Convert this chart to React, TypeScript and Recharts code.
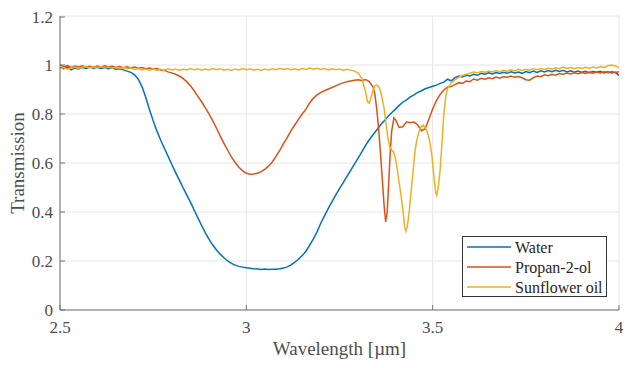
import { CartesianGrid, Label, Legend, Line, LineChart, XAxis, YAxis } from "recharts";

// wavelength [µm], transmission
const water: [number, number][] = [
  [2.5, 0.99], [2.51, 0.985], [2.52, 0.992], [2.53, 0.98], [2.54, 0.988], [2.55, 0.984],
  [2.56, 0.99], [2.57, 0.986], [2.58, 0.992], [2.59, 0.987], [2.6, 0.991], [2.61, 0.986],
  [2.62, 0.99], [2.63, 0.985], [2.64, 0.988], [2.65, 0.983], [2.66, 0.985], [2.67, 0.98],
  [2.68, 0.975], [2.69, 0.97], [2.7, 0.96], [2.71, 0.942], [2.72, 0.912], [2.73, 0.868],
  [2.74, 0.818], [2.75, 0.772], [2.76, 0.731], [2.77, 0.694], [2.78, 0.66], [2.79, 0.628],
  [2.8, 0.594], [2.81, 0.562], [2.82, 0.531], [2.83, 0.5], [2.84, 0.47], [2.85, 0.44],
  [2.86, 0.408], [2.87, 0.376], [2.88, 0.345], [2.89, 0.315], [2.9, 0.288], [2.91, 0.265],
  [2.92, 0.245], [2.93, 0.228], [2.94, 0.213], [2.95, 0.2], [2.96, 0.19], [2.97, 0.183],
  [2.98, 0.178], [2.99, 0.175], [3.0, 0.172], [3.01, 0.17], [3.02, 0.168], [3.03, 0.167],
  [3.04, 0.165], [3.05, 0.167], [3.06, 0.165], [3.07, 0.166], [3.08, 0.166], [3.09, 0.168],
  [3.1, 0.171], [3.11, 0.176], [3.12, 0.184], [3.13, 0.195], [3.14, 0.207], [3.15, 0.222],
  [3.16, 0.24], [3.17, 0.265], [3.18, 0.29], [3.19, 0.32], [3.2, 0.355], [3.21, 0.385],
  [3.22, 0.415], [3.23, 0.442], [3.24, 0.47], [3.25, 0.495], [3.26, 0.52], [3.27, 0.545],
  [3.28, 0.57], [3.29, 0.595], [3.3, 0.62], [3.31, 0.645], [3.32, 0.672], [3.33, 0.695],
  [3.34, 0.715], [3.35, 0.735], [3.36, 0.755], [3.37, 0.772], [3.38, 0.79], [3.39, 0.805],
  [3.4, 0.82], [3.41, 0.835], [3.42, 0.848], [3.43, 0.858], [3.44, 0.87], [3.45, 0.878],
  [3.46, 0.888], [3.47, 0.895], [3.48, 0.903], [3.49, 0.908], [3.5, 0.913], [3.51, 0.918],
  [3.52, 0.925], [3.53, 0.93], [3.54, 0.942], [3.55, 0.935], [3.56, 0.948], [3.57, 0.955],
  [3.58, 0.951], [3.59, 0.958], [3.6, 0.955], [3.61, 0.962], [3.62, 0.958], [3.63, 0.966],
  [3.64, 0.962], [3.65, 0.968], [3.66, 0.963], [3.67, 0.969], [3.68, 0.965], [3.69, 0.97],
  [3.7, 0.966], [3.71, 0.972], [3.72, 0.967], [3.73, 0.971], [3.74, 0.966], [3.75, 0.973],
  [3.76, 0.969], [3.77, 0.975], [3.78, 0.97], [3.79, 0.976], [3.8, 0.972], [3.81, 0.977],
  [3.82, 0.973], [3.83, 0.978], [3.84, 0.974], [3.85, 0.978], [3.86, 0.972], [3.87, 0.976],
  [3.88, 0.971], [3.89, 0.975], [3.9, 0.97], [3.91, 0.974], [3.92, 0.969], [3.93, 0.973],
  [3.94, 0.97], [3.95, 0.974], [3.96, 0.968], [3.97, 0.972], [3.98, 0.967], [3.99, 0.97],
  [4.0, 0.958],
];

const propanol: [number, number][] = [
  [2.5, 1.0], [2.51, 0.993], [2.52, 0.998], [2.53, 0.99], [2.54, 0.996], [2.55, 0.992],
  [2.56, 0.997], [2.57, 0.991], [2.58, 0.995], [2.59, 0.99], [2.6, 0.996], [2.61, 0.991],
  [2.62, 0.997], [2.63, 0.992], [2.64, 0.995], [2.65, 0.99], [2.66, 0.994], [2.67, 0.989],
  [2.68, 0.993], [2.69, 0.988], [2.7, 0.992], [2.71, 0.987], [2.72, 0.99], [2.73, 0.985],
  [2.74, 0.988], [2.75, 0.984], [2.76, 0.986], [2.77, 0.98], [2.78, 0.978], [2.79, 0.972],
  [2.8, 0.968], [2.81, 0.962], [2.82, 0.955], [2.83, 0.945], [2.84, 0.932], [2.85, 0.915],
  [2.86, 0.895], [2.87, 0.872], [2.88, 0.85], [2.89, 0.825], [2.9, 0.8], [2.91, 0.772],
  [2.92, 0.742], [2.93, 0.71], [2.94, 0.68], [2.95, 0.652], [2.96, 0.625], [2.97, 0.602],
  [2.98, 0.583], [2.99, 0.568], [3.0, 0.558], [3.01, 0.554], [3.02, 0.555], [3.03, 0.558],
  [3.04, 0.565], [3.05, 0.575], [3.06, 0.588], [3.07, 0.605], [3.08, 0.628], [3.09, 0.653],
  [3.1, 0.68], [3.11, 0.705], [3.12, 0.732], [3.13, 0.755], [3.14, 0.778], [3.15, 0.8],
  [3.16, 0.82], [3.17, 0.845], [3.18, 0.865], [3.19, 0.878], [3.2, 0.888], [3.21, 0.895],
  [3.22, 0.902], [3.23, 0.908], [3.24, 0.915], [3.25, 0.922], [3.26, 0.927], [3.27, 0.932],
  [3.28, 0.935], [3.29, 0.938], [3.3, 0.94], [3.31, 0.937], [3.32, 0.941], [3.33, 0.932],
  [3.34, 0.91], [3.345, 0.88], [3.35, 0.82], [3.355, 0.74], [3.36, 0.64], [3.365, 0.53],
  [3.37, 0.42], [3.374, 0.36], [3.378, 0.4], [3.382, 0.52], [3.386, 0.64], [3.39, 0.73],
  [3.396, 0.784], [3.402, 0.772], [3.41, 0.745], [3.42, 0.748], [3.43, 0.768], [3.44, 0.764],
  [3.45, 0.767], [3.46, 0.755], [3.47, 0.732], [3.48, 0.74], [3.49, 0.78], [3.5, 0.82],
  [3.51, 0.855], [3.52, 0.88], [3.53, 0.898], [3.54, 0.91], [3.55, 0.912], [3.56, 0.92],
  [3.57, 0.928], [3.58, 0.925], [3.59, 0.935], [3.6, 0.932], [3.61, 0.943], [3.62, 0.938],
  [3.63, 0.946], [3.64, 0.942], [3.65, 0.948], [3.66, 0.944], [3.67, 0.951], [3.68, 0.946],
  [3.69, 0.952], [3.7, 0.95], [3.71, 0.955], [3.72, 0.95], [3.73, 0.953], [3.74, 0.948],
  [3.75, 0.94], [3.76, 0.938], [3.77, 0.948], [3.78, 0.955], [3.79, 0.952], [3.8, 0.96],
  [3.81, 0.956], [3.82, 0.962], [3.83, 0.958], [3.84, 0.965], [3.85, 0.962], [3.86, 0.967],
  [3.87, 0.963], [3.88, 0.968], [3.89, 0.964], [3.9, 0.969], [3.91, 0.965], [3.92, 0.97],
  [3.93, 0.966], [3.94, 0.971], [3.95, 0.967], [3.96, 0.972], [3.97, 0.968], [3.98, 0.973],
  [3.99, 0.969], [4.0, 0.972],
];

const sunflower: [number, number][] = [
  [2.5, 0.985], [2.51, 0.99], [2.52, 0.983], [2.53, 0.988], [2.54, 0.992], [2.55, 0.986],
  [2.56, 0.991], [2.57, 0.994], [2.58, 0.988], [2.59, 0.993], [2.6, 0.989], [2.61, 0.994],
  [2.62, 0.988], [2.63, 0.992], [2.64, 0.987], [2.65, 0.991], [2.66, 0.986], [2.67, 0.99],
  [2.68, 0.985], [2.69, 0.988], [2.7, 0.982], [2.71, 0.986], [2.72, 0.98], [2.73, 0.984],
  [2.74, 0.979], [2.75, 0.984], [2.76, 0.978], [2.77, 0.983], [2.78, 0.979], [2.79, 0.985],
  [2.8, 0.98], [2.81, 0.984], [2.82, 0.978], [2.83, 0.983], [2.84, 0.98], [2.85, 0.986],
  [2.86, 0.981], [2.87, 0.985], [2.88, 0.979], [2.89, 0.984], [2.9, 0.98], [2.91, 0.986],
  [2.92, 0.981], [2.93, 0.985], [2.94, 0.979], [2.95, 0.983], [2.96, 0.978], [2.97, 0.984],
  [2.98, 0.98], [2.99, 0.986], [3.0, 0.981], [3.01, 0.985], [3.02, 0.979], [3.03, 0.983],
  [3.04, 0.978], [3.05, 0.984], [3.06, 0.98], [3.07, 0.985], [3.08, 0.981], [3.09, 0.987],
  [3.1, 0.982], [3.11, 0.986], [3.12, 0.981], [3.13, 0.985], [3.14, 0.98], [3.15, 0.986],
  [3.16, 0.982], [3.17, 0.988], [3.18, 0.983], [3.19, 0.987], [3.2, 0.982], [3.21, 0.986],
  [3.22, 0.98], [3.23, 0.985], [3.24, 0.981], [3.25, 0.984], [3.26, 0.978], [3.27, 0.983],
  [3.28, 0.979], [3.29, 0.975], [3.3, 0.968], [3.31, 0.945], [3.32, 0.89], [3.325, 0.85],
  [3.33, 0.845], [3.335, 0.87], [3.34, 0.898], [3.345, 0.915], [3.35, 0.918], [3.355, 0.912],
  [3.36, 0.895], [3.365, 0.86], [3.37, 0.82], [3.375, 0.76], [3.38, 0.7], [3.385, 0.665],
  [3.39, 0.652], [3.395, 0.645], [3.4, 0.62], [3.405, 0.575], [3.41, 0.52], [3.415, 0.47],
  [3.42, 0.41], [3.425, 0.34], [3.428, 0.322], [3.432, 0.34], [3.437, 0.4], [3.442, 0.48],
  [3.447, 0.56], [3.452, 0.64], [3.457, 0.69], [3.462, 0.72], [3.468, 0.745], [3.474, 0.755],
  [3.48, 0.745], [3.487, 0.72], [3.493, 0.68], [3.498, 0.63], [3.503, 0.55], [3.508, 0.48],
  [3.511, 0.468], [3.515, 0.5], [3.52, 0.57], [3.525, 0.68], [3.53, 0.8], [3.535, 0.87],
  [3.54, 0.905], [3.55, 0.927], [3.56, 0.94], [3.57, 0.95], [3.58, 0.957], [3.59, 0.962],
  [3.6, 0.966], [3.61, 0.971], [3.62, 0.968], [3.63, 0.973], [3.64, 0.97], [3.65, 0.975],
  [3.66, 0.972], [3.67, 0.977], [3.68, 0.973], [3.69, 0.978], [3.7, 0.975], [3.71, 0.98],
  [3.72, 0.976], [3.73, 0.982], [3.74, 0.978], [3.75, 0.983], [3.76, 0.979], [3.77, 0.985],
  [3.78, 0.981], [3.79, 0.986], [3.8, 0.982], [3.81, 0.987], [3.82, 0.983], [3.83, 0.989],
  [3.84, 0.985], [3.85, 0.992], [3.86, 0.986], [3.87, 0.99], [3.88, 0.985], [3.89, 0.99],
  [3.9, 0.986], [3.91, 0.991], [3.92, 0.987], [3.93, 0.992], [3.94, 0.988], [3.95, 0.994],
  [3.96, 0.99], [3.97, 0.997], [3.98, 1.0], [3.99, 0.996], [4.0, 0.99],
];

const xTicks = [2.5, 3, 3.5, 4];
const yTicks = [0, 0.2, 0.4, 0.6, 0.8, 1, 1.2];

const series = [
  { name: "Water", points: water, color: "#0072BD" },
  { name: "Propan-2-ol", points: propanol, color: "#D95319" },
  { name: "Sunflower oil", points: sunflower, color: "#EDB120" },
];

const FONT = '"Liberation Serif", "Times New Roman", serif';
const AXIS = "#737373";
const TEXT = "#4d4d4d";

function BottomTick({ x, y, payload }: any) {
  return (
    <g>
      <line x1={x} y1={y} x2={x} y2={y - 5} stroke={AXIS} />
      <text x={x} y={y + 23} textAnchor="middle" style={{ fontFamily: FONT, fontSize: 17, fill: TEXT }}>
        {String(payload.value)}
      </text>
    </g>
  );
}

function LeftTick({ x, y, payload }: any) {
  return (
    <g>
      <line x1={x} y1={y} x2={x + 5} y2={y} stroke={AXIS} />
      <text x={x - 7} y={y + 6} textAnchor="end" style={{ fontFamily: FONT, fontSize: 17, fill: TEXT }}>
        {String(payload.value)}
      </text>
    </g>
  );
}

function TopTick({ x, y }: any) {
  return <line x1={x} y1={y} x2={x} y2={y + 5} stroke={AXIS} />;
}

function RightTick({ x, y }: any) {
  return <line x1={x} y1={y} x2={x - 5} y2={y} stroke={AXIS} />;
}

function XTitle({ viewBox }: any) {
  return (
    <text
      x={viewBox.x + viewBox.width / 2}
      y={viewBox.y + 45}
      textAnchor="middle"
      style={{ fontFamily: FONT, fontSize: 19, fill: TEXT }}
    >
      Wavelength [µm]
    </text>
  );
}

function YTitle({ viewBox }: any) {
  const cx = 16;
  const cy = viewBox.y + viewBox.height / 2;
  return (
    <text
      x={cx}
      y={cy}
      transform={`rotate(-90, ${cx}, ${cy})`}
      textAnchor="middle"
      style={{ fontFamily: FONT, fontSize: 19, fill: TEXT }}
    >
      Transmission
    </text>
  );
}

function LegendBox() {
  return (
    <svg width={145} height={61} style={{ display: "block" }}>
      <rect x={0.5} y={0.5} width={144} height={60} fill="#fff" stroke="#333" strokeWidth={1} />
      {series.map((s, i) => (
        <g key={s.name}>
          <line x1={5} x2={49} y1={11 + i * 20} y2={11 + i * 20} stroke={s.color} strokeWidth={1.5} />
          <text x={53} y={16.5 + i * 20} style={{ fontFamily: FONT, fontSize: 16, fill: "#262626" }}>
            {s.name}
          </text>
        </g>
      ))}
    </svg>
  );
}

export default function App() {
  return (
    <LineChart width={627} height={352} margin={{ top: 8, right: 16, left: 0, bottom: 0 }}>
      <CartesianGrid stroke="#e6e6e6" strokeWidth={1} />
      <XAxis
        dataKey="wl"
        type="number"
        domain={[2.5, 4]}
        ticks={xTicks}
        allowDataOverflow
        height={50}
        stroke={AXIS}
        tickSize={0}
        tickMargin={0}
        tick={<BottomTick />}
      >
        <Label content={<XTitle />} />
      </XAxis>
      <XAxis
        xAxisId="top"
        orientation="top"
        type="number"
        domain={[2.5, 4]}
        ticks={xTicks}
        height={0}
        stroke={AXIS}
        tickSize={0}
        tickMargin={0}
        tick={<TopTick />}
      />
      <YAxis
        type="number"
        domain={[0, 1.2]}
        ticks={yTicks}
        allowDataOverflow
        width={52}
        stroke={AXIS}
        tickSize={0}
        tickMargin={0}
        tick={<LeftTick />}
      >
        <Label content={<YTitle />} />
      </YAxis>
      <YAxis
        yAxisId="right"
        orientation="right"
        type="number"
        domain={[0, 1.2]}
        ticks={yTicks}
        width={0}
        stroke={AXIS}
        tickSize={0}
        tickMargin={0}
        tick={<RightTick />}
      />
      <Legend
        layout="vertical"
        align="center"
        verticalAlign="middle"
        wrapperStyle={{ left: 454, top: 228, width: 145 }}
        content={<LegendBox />}
      />
      {series.map((s) => (
        <Line
          key={s.name}
          name={s.name}
          data={s.points.map(([wl, t]) => ({ wl, t }))}
          dataKey="t"
          stroke={s.color}
          strokeWidth={1.5}
          dot={false}
          activeDot={false}
          isAnimationActive={false}
        />
      ))}
    </LineChart>
  );
}
